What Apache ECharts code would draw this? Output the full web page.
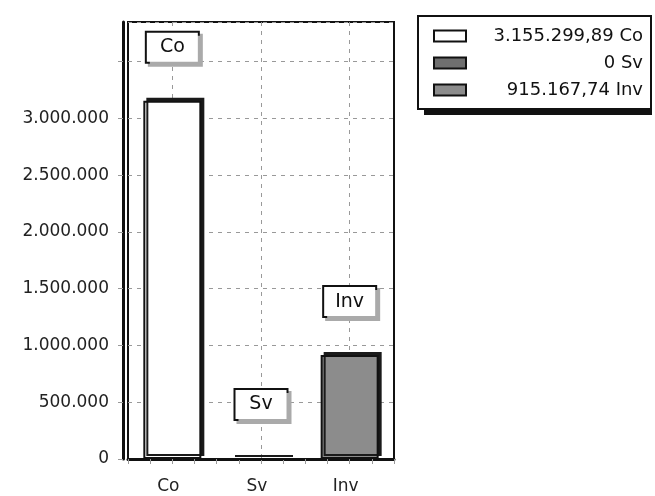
<!DOCTYPE html>
<html>
<head>
<meta charset="utf-8">
<title>Co / Sv / Inv</title>
<script src="https://cdn.jsdelivr.net/npm/echarts@6/dist/echarts.min.js"></script>
<style>
  html, body { margin: 0; padding: 0; background: #fff; }
  #chart { width: 655px; height: 496px; }
</style>
</head>
<body>
<div id="chart"></div>
<script>
// Categories and their values
const categories = ['Co', 'Sv', 'Inv'];
const values = [3155299.89, 0, 915167.74];
const legendLabels = ['3.155.299,89 Co', '0 Sv', '915.167,74 Inv'];
const barColors = ['#ffffff', '#6f6f6f', '#8c8c8c'];

// Value axis range; the top grid line carries no label
const yMax = 3850000;
const yStep = 500000;
const yLabelLimit = 3000000;

// Thin guide axis: 4 steps per category, for minor ticks and centre grid lines
const guideSlots = ['', '', '', '', '', '', '', '', '', '', '', '', ''];

const FONT = 'DejaVu Sans';

function dotted(v) {
  return String(Math.round(v)).replace(/\B(?=(\d{3})+(?!\d))/g, '.');
}

const series = categories.map(function (cat, i) {
  return {
    name: legendLabels[i],
    type: 'bar',
    stack: 'total',
    barWidth: 58,
    data: categories.map(function (c, j) { return j === i ? values[i] : '-'; }),
    itemStyle: {
      color: barColors[i],
      borderColor: '#111',
      borderWidth: 2,
      shadowColor: '#1a1a1a',
      shadowBlur: 0,
      shadowOffsetX: 3,
      shadowOffsetY: -3
    },
    label: {
      show: true,
      position: 'top',
      distance: 39,
      formatter: cat,
      fontFamily: FONT,
      fontSize: 19,
      color: '#111',
      backgroundColor: '#fff',
      borderColor: '#111',
      borderWidth: 2,
      width: 31,
      align: 'center',
      padding: [5, 10, 5, 10],
      shadowColor: '#aaa',
      shadowBlur: 0,
      shadowOffsetX: 3,
      shadowOffsetY: 3
    },
    emphasis: { disabled: true }
  };
});

const chart = echarts.init(document.getElementById('chart'), null, { renderer: 'canvas' });

chart.setOption({
  animation: false,
  backgroundColor: '#fff',
  grid: {
    left: 128,
    right: 261,
    top: 22,
    bottom: 37,
    show: true,
    borderColor: '#111',
    borderWidth: 2,
    outerBoundsMode: 'none'
  },
  // dark band under the legend box
  graphic: [{
    type: 'rect',
    z: 1,
    left: 424,
    top: 106,
    shape: { width: 228, height: 9 },
    style: { fill: '#111' },
    silent: true
  }],
  legend: {
    z: 5,
    orient: 'vertical',
    left: 418,
    top: 16,
    padding: [11, 8, 10, 15],
    itemGap: 9,
    itemWidth: 32,
    itemHeight: 11,
    icon: 'rect',
    backgroundColor: '#fff',
    borderColor: '#111',
    borderWidth: 2,
    selectedMode: false,
    data: legendLabels,
    formatter: function (name) { return '{t|' + name + '}'; },
    textStyle: {
      rich: {
        t: {
          width: 172,
          align: 'right',
          fontFamily: FONT,
          fontSize: 18,
          lineHeight: 18,
          color: '#111'
        }
      }
    }
  },
  xAxis: [
    {
      type: 'category',
      data: categories,
      axisLine: { show: true, lineStyle: { color: '#111', width: 3 } },
      axisTick: { show: false },
      axisLabel: {
        fontFamily: FONT,
        fontSize: 17,
        color: '#222',
        margin: 19,
        padding: [0, 8, 0, 0]
      },
      splitLine: { show: false }
    },
    {
      type: 'category',
      data: guideSlots,
      position: 'bottom',
      boundaryGap: false,
      axisLine: { show: false },
      axisLabel: { show: false },
      axisTick: {
        show: true,
        interval: 0,
        length: 5,
        lineStyle: { color: '#999', width: 1 }
      },
      splitLine: {
        show: true,
        interval: function (idx) { return idx % 4 === 2; },
        lineStyle: { color: '#999', width: 1, type: [4, 5] }
      }
    }
  ],
  yAxis: {
    type: 'value',
    min: 0,
    max: yMax,
    interval: yStep,
    offset: 5,
    axisLine: { show: true, lineStyle: { color: '#111', width: 3 } },
    axisTick: { show: true, length: 5, lineStyle: { color: '#999' } },
    axisLabel: {
      fontFamily: FONT,
      fontSize: 17,
      color: '#222',
      margin: 14,
      showMaxLabel: false,
      formatter: function (v) { return v > yLabelLimit ? '' : dotted(v); }
    },
    splitLine: {
      show: true,
      lineStyle: { color: '#999', width: 1, type: [4, 5] }
    }
  },
  series: series
});
</script>
</body>
</html>
